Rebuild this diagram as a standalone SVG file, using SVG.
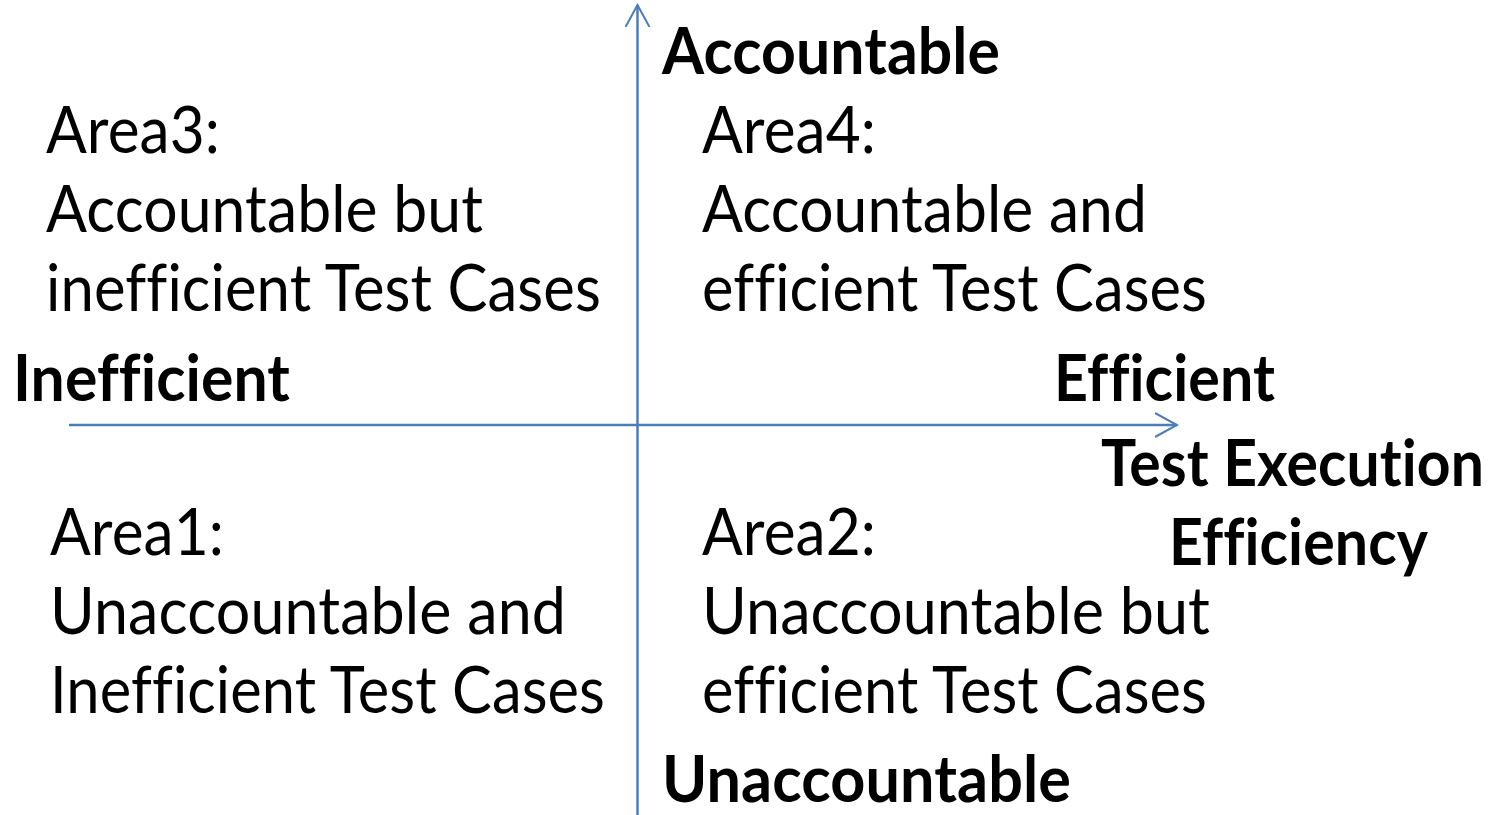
<svg xmlns="http://www.w3.org/2000/svg" width="1498" height="815" viewBox="0 0 1498 815">
<style>
.r{font-family:Lato,"Open Sans","Liberation Sans",sans-serif;font-size:65px;fill:#000;font-variant-ligatures:none;font-feature-settings:"liga" 0,"clig" 0;letter-spacing:0.1px}
.b{font-family:Lato,"Open Sans","Liberation Sans",sans-serif;font-size:65px;font-weight:bold;fill:#000;font-variant-ligatures:none;font-feature-settings:"liga" 0,"clig" 0;letter-spacing:0.1px}
.axis{stroke:#4A7EBB;stroke-width:2.5;fill:none}
</style>
<defs>
<marker id="open" viewBox="0 0 24 26" refX="22" refY="13" markerWidth="24" markerHeight="26" markerUnits="userSpaceOnUse" orient="auto">
<path d="M0,1 L22,13 L0,25" fill="none" stroke="#4A7EBB" stroke-width="2"/>
</marker>
</defs>
<rect width="1498" height="815" fill="#fff"/>
<g id="connectors">
<line class="axis" x1="69" y1="425" x2="1177" y2="425" marker-end="url(#open)"/>
<line class="axis" x1="637.5" y1="815" x2="637.5" y2="5" marker-end="url(#open)"/>
</g>
<g id="label-accountable"><text class="b" x="662" y="74" textLength="338" lengthAdjust="spacingAndGlyphs">Accountable</text></g>
<g id="label-unaccountable"><text class="b" x="662" y="802" textLength="409" lengthAdjust="spacingAndGlyphs">Unaccountable</text></g>
<g id="label-inefficient"><text class="b" x="13" y="401" textLength="277" lengthAdjust="spacingAndGlyphs">Inefficient</text></g>
<g id="label-efficient"><text class="b" x="1054" y="401" textLength="221" lengthAdjust="spacingAndGlyphs">Efficient</text></g>
<g id="label-axis-x">
<text class="b" x="1101" y="486" textLength="383" lengthAdjust="spacingAndGlyphs">Test Execution</text>
<text class="b" x="1169" y="565" textLength="259" lengthAdjust="spacingAndGlyphs">Efficiency</text>
</g>
<g id="area3">
<text class="r" x="46" y="153" textLength="174" lengthAdjust="spacingAndGlyphs">Area3:</text>
<text class="r" x="46" y="232" textLength="437" lengthAdjust="spacingAndGlyphs">Accountable but</text>
<text class="r" x="46" y="311" textLength="555" lengthAdjust="spacingAndGlyphs">inefficient Test Cases</text>
</g>
<g id="area4">
<text class="r" x="702" y="153" textLength="174" lengthAdjust="spacingAndGlyphs">Area4:</text>
<text class="r" x="702" y="232" textLength="445" lengthAdjust="spacingAndGlyphs">Accountable and</text>
<text class="r" x="702" y="311" textLength="505" lengthAdjust="spacingAndGlyphs">efficient Test Cases</text>
</g>
<g id="area1">
<text class="r" x="50" y="555" textLength="174" lengthAdjust="spacingAndGlyphs">Area1:</text>
<text class="r" x="50" y="634" textLength="516" lengthAdjust="spacingAndGlyphs">Unaccountable and</text>
<text class="r" x="50" y="713" textLength="555" lengthAdjust="spacingAndGlyphs">Inefficient Test Cases</text>
</g>
<g id="area2">
<text class="r" x="702" y="555" textLength="174" lengthAdjust="spacingAndGlyphs">Area2:</text>
<text class="r" x="702" y="634" textLength="508" lengthAdjust="spacingAndGlyphs">Unaccountable but</text>
<text class="r" x="702" y="713" textLength="505" lengthAdjust="spacingAndGlyphs">efficient Test Cases</text>
</g>
</svg>
